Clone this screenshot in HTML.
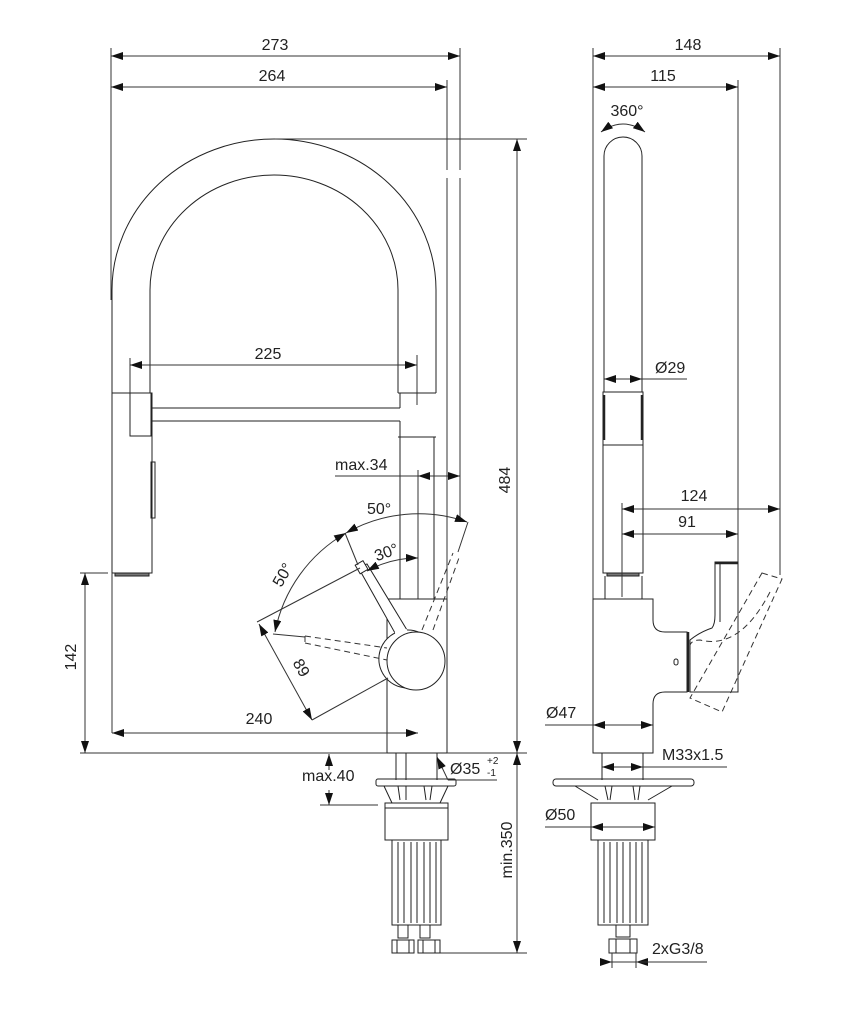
<!DOCTYPE html>
<html><head><meta charset="utf-8"><style>
html,body{margin:0;padding:0;background:#fff}
svg{display:block}
text{font-family:"Liberation Sans",Arial,sans-serif;font-size:16px;fill:#222}
</style></head><body>
<svg width="866" height="1024" viewBox="0 0 866 1024" xmlns="http://www.w3.org/2000/svg">
<defs>
<marker id="a" viewBox="0 0 12 8" refX="12" refY="4" markerWidth="12" markerHeight="8" markerUnits="userSpaceOnUse" orient="auto-start-reverse"><path d="M0,0 L12,4 L0,8 Z" fill="#111"/></marker>
</defs>
<g fill="none" stroke="#333" stroke-width="1">
<!-- LEFT VIEW dims top -->
<line x1="111" y1="56" x2="460" y2="56" marker-start="url(#a)" marker-end="url(#a)"/>
<line x1="111" y1="87" x2="447" y2="87" marker-start="url(#a)" marker-end="url(#a)"/>
<line x1="111" y1="48" x2="111" y2="300"/>
<line x1="460" y1="48" x2="460" y2="170"/>
<line x1="460" y1="178" x2="460" y2="522"/>
<line x1="447" y1="80" x2="447" y2="170"/>
<line x1="447" y1="178" x2="447" y2="599"/>
<!-- arch -->
<path d="M112,393 L112,290 A162,151 0 0 1 436,290 L436,393" stroke="#222"/>
<path d="M150,393 L150,290 A124,115 0 0 1 398,290 L398,393" stroke="#222"/>
<!-- 225 -->
<line x1="130" y1="365" x2="417" y2="365" marker-start="url(#a)" marker-end="url(#a)"/>
<line x1="130" y1="358" x2="130" y2="393"/>
<line x1="417" y1="355" x2="417" y2="405"/>
<!-- shower head left -->
<g stroke="#222">
<rect x="112" y="393" width="40" height="180"/>
<rect x="130" y="393" width="21" height="43"/>
<line x1="152" y1="408" x2="400" y2="408"/>
<line x1="152" y1="421" x2="400" y2="421"/>
<line x1="398" y1="393" x2="436" y2="393"/>
<line x1="398" y1="437" x2="436" y2="437"/>
<line x1="400" y1="393" x2="400" y2="408"/>
<line x1="400" y1="421" x2="400" y2="599"/>
<line x1="434" y1="437" x2="434" y2="599"/>
<rect x="151" y="462" width="4" height="56"/>
<rect x="115" y="573" width="34" height="3" fill="#777"/>
</g>
<line x1="418" y1="470" x2="418" y2="733"/>
<!-- max.34 -->
<line x1="335" y1="476" x2="418" y2="476"/>
<line x1="418" y1="476" x2="447" y2="476" marker-start="url(#a)"/>
<line x1="447" y1="476" x2="460" y2="476" marker-end="url(#a)"/>
<!-- body -->
<rect x="387" y="599" width="60" height="154" stroke="#222" fill="#fff"/>
<line x1="80" y1="753" x2="387" y2="753"/>
<path d="M358,567 L395,633 A29,29 0 1 0 407,630 L367,564 Z" fill="#fff" stroke="#222"/>
<circle cx="416" cy="661" r="29" fill="#fff" stroke="#222"/>
<path d="M395,633 L407,630" stroke="#fff" stroke-width="2"/>
<rect x="357" y="562" width="9" height="10" transform="rotate(-30 362 567)" fill="#fff" stroke="#222"/>
<!-- dashed levers -->
<g stroke-dasharray="6,4">
<line x1="305" y1="636" x2="387" y2="648"/>
<line x1="305" y1="643" x2="387" y2="660"/>
<line x1="305" y1="636" x2="305" y2="643"/>
<line x1="422" y1="630" x2="453" y2="553"/>
<line x1="433" y1="630" x2="460" y2="555"/>
</g>
<line x1="273" y1="634" x2="305" y2="637"/>
<line x1="458" y1="552" x2="468" y2="522"/>
<line x1="345" y1="533" x2="358" y2="565"/>
<line x1="257" y1="622" x2="360" y2="568"/>
<!-- arcs -->
<path d="M275,632 A147,147 0 0 1 346,533" marker-start="url(#a)" marker-end="url(#a)"/>
<path d="M346,533 A147,147 0 0 1 467,522" marker-start="url(#a)" marker-end="url(#a)"/>
<path d="M367,571 A104,104 0 0 1 418,558" marker-start="url(#a)" marker-end="url(#a)"/>
<!-- 89 -->
<line x1="259" y1="624" x2="312" y2="720" marker-start="url(#a)" marker-end="url(#a)"/>
<line x1="312" y1="720" x2="388" y2="678"/>
<!-- 240 -->
<line x1="112" y1="733" x2="418" y2="733" marker-start="url(#a)" marker-end="url(#a)"/>
<line x1="112" y1="573" x2="112" y2="733"/>
<!-- 142 -->
<line x1="85" y1="573" x2="85" y2="753" marker-start="url(#a)" marker-end="url(#a)"/>
<line x1="80" y1="573" x2="108" y2="573"/>
<!-- 484 -->
<line x1="517" y1="139" x2="517" y2="753" marker-start="url(#a)" marker-end="url(#a)"/>
<line x1="275" y1="139" x2="527" y2="139"/>
<line x1="447" y1="753" x2="527" y2="753"/>
<!-- min.350 -->
<line x1="517" y1="753" x2="517" y2="953" marker-start="url(#a)" marker-end="url(#a)"/>
<line x1="432" y1="953" x2="527" y2="953"/>
<!-- left fittings -->
<g stroke="#222">
<line x1="396" y1="753" x2="396" y2="780"/>
<line x1="437" y1="753" x2="437" y2="780"/>
<line x1="406" y1="753" x2="406" y2="780"/>
<rect x="376" y="779" width="80" height="7" rx="2"/>
<path d="M384,786 L392,803 M448,786 L440,803 M398,786 L400,800 M406,786 L406,800 M432,786 L430,800 M424,786 L426,800"/>
<rect x="385" y="803" width="63" height="37"/>
<line x1="385" y1="808" x2="448" y2="808"/>
<rect x="392" y="840" width="49" height="85"/>
<path d="M398,842 V923 M404,842 V923 M411,842 V923 M417,842 V923 M424,842 V923 M430,842 V923 M436,842 V923"/>
<rect x="398" y="925" width="10" height="13"/>
<rect x="420" y="925" width="10" height="13"/>
<path d="M392,940 H414 V953 H392 Z M397,940 V953 M409,940 V953 M418,940 H440 V953 H418 Z M423,940 V953 M435,940 V953"/>
</g>
<!-- max.40 -->
<line x1="329" y1="770" x2="329" y2="754" marker-end="url(#a)"/>
<line x1="329" y1="790" x2="329" y2="805" marker-end="url(#a)"/>
<line x1="320" y1="805" x2="378" y2="805"/>
<!-- Ø35 -->
<line x1="448" y1="780" x2="437" y2="757" marker-end="url(#a)"/>
<line x1="448" y1="780" x2="497" y2="780"/>

<!-- RIGHT VIEW -->
<line x1="593" y1="56" x2="780" y2="56" marker-start="url(#a)" marker-end="url(#a)"/>
<line x1="593" y1="87" x2="738" y2="87" marker-start="url(#a)" marker-end="url(#a)"/>
<line x1="593" y1="48" x2="593" y2="599"/>
<line x1="780" y1="48" x2="780" y2="575"/>
<line x1="738" y1="80" x2="738" y2="562"/>
<path d="M604,392 V156 A19,19 0 0 1 642,156 V392" stroke="#222"/>
<path d="M601,132 Q623,116 645,132" marker-start="url(#a)" marker-end="url(#a)"/>
<line x1="604" y1="379" x2="642" y2="379" marker-start="url(#a)" marker-end="url(#a)"/>
<line x1="642" y1="379" x2="687" y2="379"/>
<g stroke="#222">
<rect x="603" y="392" width="40" height="181"/>
<line x1="603" y1="445" x2="643" y2="445"/>
<line x1="604" y1="395" x2="604" y2="440" stroke-width="2.5"/>
<line x1="642" y1="395" x2="642" y2="440" stroke-width="2.5"/>
<rect x="607" y="573" width="32" height="3" fill="#777"/>
<line x1="605" y1="576" x2="605" y2="599"/>
<line x1="642" y1="576" x2="642" y2="599"/>
</g>
<line x1="622" y1="503" x2="622" y2="597"/>
<line x1="622" y1="509" x2="780" y2="509" marker-start="url(#a)" marker-end="url(#a)"/>
<line x1="622" y1="534" x2="738" y2="534" marker-start="url(#a)" marker-end="url(#a)"/>
<g stroke="#222">
<path d="M593,599 H653 V620 Q653,632 665,632 H687 V692 H665 Q653,692 653,704 V753 H593 Z" fill="#fff"/>
<path d="M715,562 H738 V692 H690 V640 Q700,632 712,628 Q715,624 715,615 Z" fill="#fff"/>
<line x1="720" y1="564" x2="720" y2="622"/>
<line x1="715" y1="563" x2="738" y2="563" stroke-width="2.5"/>
<line x1="688" y1="632" x2="688" y2="692" stroke-width="2.5"/>
<rect x="674" y="659" width="4" height="6" rx="2"/>
</g>
<g stroke-dasharray="6,4">
<path d="M762,573 L782,579 L722,712 L690,698 Z"/>
<path d="M770,592 Q740,650 700,640 Q692,640 690,645"/>
</g>
<line x1="593" y1="725" x2="653" y2="725" marker-start="url(#a)" marker-end="url(#a)"/>
<line x1="545" y1="725" x2="593" y2="725"/>
<!-- right fittings -->
<g stroke="#222">
<line x1="602" y1="753" x2="602" y2="780"/>
<line x1="643" y1="753" x2="643" y2="780"/>
<rect x="553" y="779" width="141" height="7" rx="3"/>
<path d="M575,786 L598,800 M672,786 L648,800 M605,786 L608,800 M612,786 L610,800 M633,786 L635,800 M640,786 L638,800"/>
<rect x="591" y="803" width="64" height="37"/>
<rect x="598" y="840" width="50" height="85"/>
<path d="M604,842 V923 M610,842 V923 M617,842 V923 M623,842 V923 M630,842 V923 M636,842 V923 M642,842 V923"/>
<rect x="616" y="925" width="14" height="12"/>
<path d="M609,939 H637 V953 H609 Z M616,939 V953 M630,939 V953"/>
</g>
<line x1="602" y1="767" x2="643" y2="767" marker-start="url(#a)" marker-end="url(#a)"/>
<line x1="643" y1="767" x2="727" y2="767"/>
<line x1="545" y1="827" x2="591" y2="827"/>
<line x1="591" y1="827" x2="655" y2="827" marker-start="url(#a)" marker-end="url(#a)"/>
<line x1="600" y1="962" x2="612" y2="962" marker-end="url(#a)"/>
<line x1="648" y1="962" x2="636" y2="962" marker-end="url(#a)"/>
<line x1="612" y1="962" x2="707" y2="962"/>
<line x1="612" y1="953" x2="612" y2="968"/>
<line x1="636" y1="953" x2="636" y2="968"/>
</g>
<!-- TEXT -->
<text x="275" y="50" text-anchor="middle">273</text>
<text x="272" y="81" text-anchor="middle">264</text>
<text x="268" y="359" text-anchor="middle">225</text>
<text x="335" y="470">max.34</text>
<text x="367" y="514">50°</text>
<text x="374" y="558" transform="rotate(-20 385 552)">30°</text>
<text x="283" y="580" text-anchor="middle" transform="rotate(-60 283 575)">50°</text>
<text x="301" y="673" text-anchor="middle" transform="rotate(60 301 668)">89</text>
<text x="259" y="724" text-anchor="middle">240</text>
<text x="76" y="667" text-anchor="middle" transform="rotate(-90 71 662)">142</text>
<text x="510" y="490" text-anchor="middle" transform="rotate(-90 505 485)">484</text>
<text x="512" y="860" text-anchor="middle" transform="rotate(-90 507 855)">min.350</text>
<text x="302" y="781">max.40</text>
<text x="450" y="774">Ø35</text>
<text x="487" y="764" style="font-size:10px">+2</text>
<text x="487" y="776" style="font-size:10px">-1</text>
<text x="688" y="50" text-anchor="middle">148</text>
<text x="663" y="81" text-anchor="middle">115</text>
<text x="627" y="116" text-anchor="middle">360°</text>
<text x="655" y="373">Ø29</text>
<text x="694" y="501" text-anchor="middle">124</text>
<text x="687" y="527" text-anchor="middle">91</text>
<text x="546" y="718">Ø47</text>
<text x="662" y="760">M33x1.5</text>
<text x="545" y="820">Ø50</text>
<text x="652" y="954">2xG3/8</text>
</svg>
</body></html>
